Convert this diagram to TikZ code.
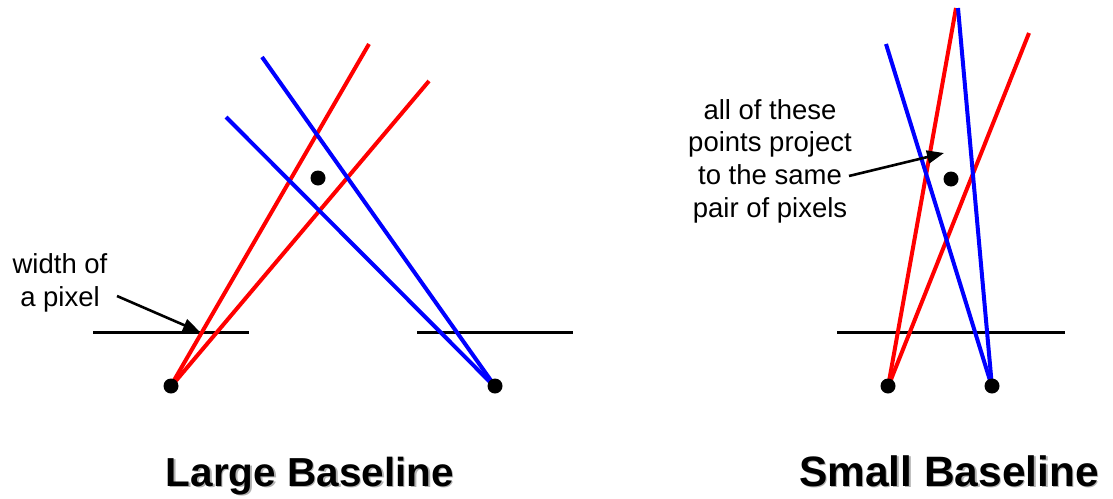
\documentclass[tikz,border=0pt]{standalone}
\usepackage{fontspec}
\setmainfont{Liberation Sans}
\usetikzlibrary{arrows.meta}
\definecolor{rayred}{RGB}{255,0,0}
\definecolor{rayblue}{RGB}{0,0,255}
\tikzset{
  dotnode/.style={circle,fill=black,inner sep=0pt,minimum size=15pt},
  redray/.style={draw=rayred,line width=4pt},
  blueray/.style={draw=rayblue,line width=4pt},
  plane/.style={draw=black,line width=3pt},
  pointer/.style={draw=black,line width=2.6pt,-{Triangle[length=17pt,width=13pt]}},
  label/.style={align=center,inner sep=0pt,font=\fontsize{27.5}{32.6}\selectfont},
  title/.style={inner sep=0pt,anchor=base,font=\fontsize{40.5}{46}\selectfont\bfseries},
  titleshadow/.style={title,text=black!30}
}
\begin{document}
\begin{tikzpicture}[x=1pt,y=-1pt]
\useasboundingbox (0,0) rectangle (1113,498);
% ---------- Large baseline ----------
\coordinate (pl1) at (93,332);  \coordinate (pl2) at (249,332);
\coordinate (pr1) at (417,332); \coordinate (pr2) at (573,332);
\draw[plane] (pl1) -- (pl2);
\draw[plane] (pr1) -- (pr2);
\coordinate (camLc) at (169,389);
\coordinate (camRc) at (497,389);
\coordinate (r1) at (369,44);
\coordinate (r2) at (429,81);
\coordinate (b1) at (262,57);
\coordinate (b2) at (226,117);
\draw[redray] (camLc) -- (r1);
\draw[redray] (camLc) -- (r2);
\draw[blueray] (camRc) -- (b1);
\draw[blueray] (camRc) -- (b2);
\node[dotnode] (camL) at (171,386) {};
\node[dotnode] (camR) at (495,386) {};
\node[dotnode] (ptL) at (318,178) {};
\node[label] (wlab) at (60,283) {width of\\a pixel};
\coordinate (wstart) at (117,296);
\coordinate (wtip) at (200,332);
\draw[pointer] (wstart) -- (wtip);
% ---------- Small baseline ----------
\coordinate (ps1) at (837,332); \coordinate (ps2) at (1065,332);
\draw[plane] (ps1) -- (ps2);
\coordinate (camAc) at (888,387);
\coordinate (camBc) at (992,387);
\coordinate (sr1) at (956,8);
\coordinate (sr2) at (1029,33);
\coordinate (sb1) at (958,8);
\coordinate (sb2) at (886,44);
\draw[redray] (camAc) -- (sr1);
\draw[redray] (camAc) -- (sr2);
\draw[blueray] (camBc) -- (sb1);
\draw[blueray] (camBc) -- (sb2);
\node[dotnode] (camA) at (888,386) {};
\node[dotnode] (camB) at (992,386) {};
\node[dotnode] (ptS) at (951,179) {};
\node[label] (alab) at (770,161) {all of these\\points project\\to the same\\pair of pixels};
\coordinate (atail) at (849,176);
\coordinate (atip) at (944,153);
\draw[pointer] (atail) -- (atip);
% ---------- titles ----------
\node[titleshadow] at (311.5,487.5) {Large Baseline};
\node[title] (tL) at (310,486) {Large Baseline};
\node[titleshadow,font=\fontsize{42.5}{48}\selectfont\bfseries] at (950.5,487.5) {Small Baseline};
\node[title,font=\fontsize{42.5}{48}\selectfont\bfseries] (tS) at (949,486) {Small Baseline};
\end{tikzpicture}
\end{document}
